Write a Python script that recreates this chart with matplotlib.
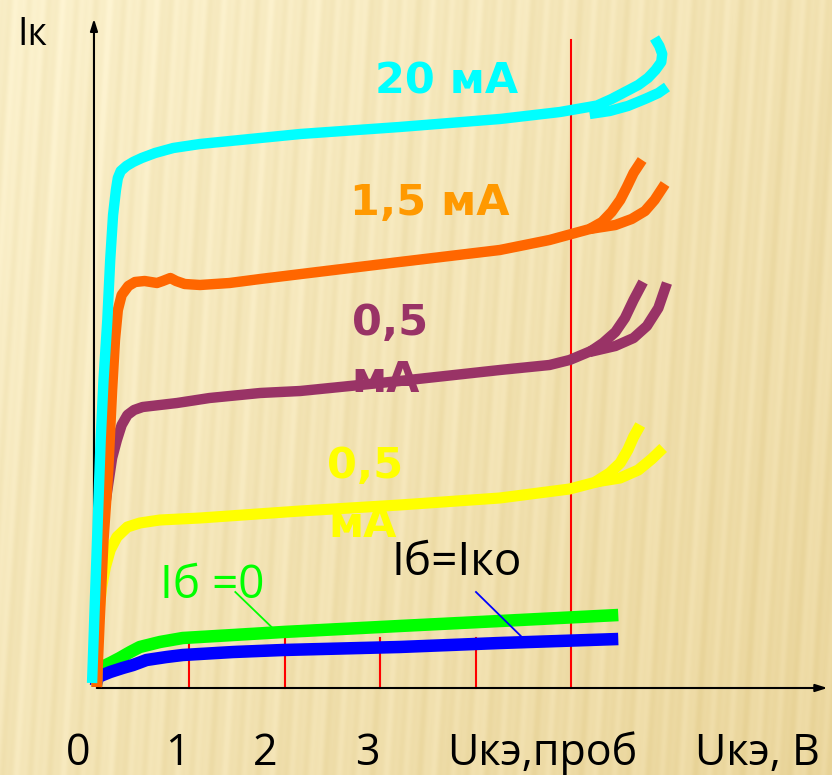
import numpy as np
import matplotlib
matplotlib.use('Agg')
import matplotlib.pyplot as plt

# ---- output characteristics of the transistor, Ik vs Uke ----
# voltage in volts, current in relative units
u_20 = [-0.02, 0.01, 0.04, 0.07, 0.10, 0.14, 0.17, 0.20, 0.23, 0.25, 0.28, 0.34, 0.41, 0.50,
        0.64, 0.83, 1.11, 2.16, 3.20, 4.25, 4.88, 5.30]
i_20 = [0.05, 0.88, 1.68, 2.48, 3.08, 3.68, 4.28, 4.73, 4.98, 5.10, 5.17, 5.22, 5.26, 5.30,
        5.35, 5.40, 5.44, 5.54, 5.61, 5.69, 5.76, 5.83]
u_20a = [5.28, 5.42, 5.56, 5.70, 5.80, 5.88, 5.94, 5.95, 5.92, 5.87]
i_20a = [5.83, 5.89, 5.96, 6.03, 6.10, 6.18, 6.26, 6.34, 6.42, 6.50]
u_20b = [5.19, 5.40, 5.59, 5.77, 5.91, 6.00]
i_20b = [5.74, 5.77, 5.82, 5.89, 5.95, 6.01]

u_15 = [0.03, 0.06, 0.10, 0.15, 0.19, 0.22, 0.25, 0.29, 0.36, 0.43, 0.53, 0.66, 0.72, 0.80,
        0.86, 0.95, 1.11, 1.42, 1.74, 3.20, 4.25, 4.77, 5.23]
i_15 = [0.01, 0.68, 1.48, 2.18, 2.98, 3.48, 3.78, 3.93, 4.02, 4.06, 4.07, 4.05, 4.07, 4.10,
        4.07, 4.04, 4.03, 4.05, 4.09, 4.26, 4.38, 4.48, 4.60]
u_15a = [5.19, 5.32, 5.42, 5.51, 5.58, 5.65, 5.74]
i_15a = [4.59, 4.66, 4.76, 4.88, 5.01, 5.15, 5.28]
u_15b = [5.19, 5.46, 5.63, 5.77, 5.87, 5.98]
i_15b = [4.59, 4.63, 4.69, 4.77, 4.88, 5.04]

u_05p = [0.03, 0.03, 0.04, 0.08, 0.14, 0.19, 0.24, 0.29, 0.35, 0.42, 0.51, 0.69, 0.87, 1.21,
         1.74, 2.16, 3.20, 4.25, 4.77, 4.98, 5.23]
i_05p = [0.01, 0.41, 1.08, 1.58, 1.98, 2.30, 2.48, 2.63, 2.73, 2.78, 2.81, 2.83, 2.85, 2.90,
         2.95, 2.97, 3.07, 3.18, 3.23, 3.28, 3.38]
u_05pa = [5.19, 5.33, 5.46, 5.56, 5.65, 5.75]
i_05pa = [3.36, 3.45, 3.56, 3.70, 3.88, 4.06]
u_05pb = [5.19, 5.46, 5.65, 5.79, 5.91, 6.00]
i_05pb = [3.36, 3.42, 3.50, 3.62, 3.80, 4.05]

u_05y = [0.03, 0.03, 0.05, 0.08, 0.12, 0.17, 0.24, 0.35, 0.48, 0.69, 1.11, 2.16, 3.20, 4.25,
         4.98, 5.30]
i_05y = [0.01, 0.41, 0.75, 1.01, 1.21, 1.38, 1.51, 1.61, 1.65, 1.68, 1.70, 1.77, 1.83, 1.90,
         1.99, 2.07]
u_05ya = [5.25, 5.40, 5.51, 5.59, 5.65, 5.72]
i_05ya = [2.06, 2.15, 2.25, 2.38, 2.51, 2.63]
u_05yb = [5.25, 5.51, 5.70, 5.84, 5.96]
i_05yb = [2.06, 2.10, 2.18, 2.29, 2.40]

u_b0 = [0.02, 0.06, 0.17, 0.27, 0.38, 0.48, 0.69, 0.93, 1.46, 1.98, 3.20, 4.25, 5.49]
i_b0 = [0.08, 0.20, 0.25, 0.30, 0.36, 0.41, 0.46, 0.50, 0.53, 0.56, 0.62, 0.67, 0.73]
u_ko = [0.02, 0.04, 0.17, 0.30, 0.41, 0.55, 0.76, 0.93, 1.46, 1.98, 3.20, 4.25, 5.49]
i_ko = [0.02, 0.11, 0.16, 0.20, 0.23, 0.28, 0.31, 0.33, 0.36, 0.38, 0.41, 0.45, 0.49]

tick_u = [1, 2, 3, 4]
u_break = 5.0
tick_labels = ['0', '1', '2', '3', 'Uкэ,проб', 'Uкэ, В']
tick_label_u = [-0.17, 0.87, 1.79, 2.86, 4.69, 6.95]

# axis limits so that the plot fills the whole canvas
x_lo, x_hi = -0.984, 7.728
y_lo, y_hi = -0.87, 6.88

fig = plt.figure(figsize=(8.32, 7.75), dpi=100)
ax = fig.add_axes([0, 0, 1, 1])
ax.set_xlim(x_lo, x_hi)
ax.set_ylim(y_lo, y_hi)
ax.axis('off')

# wooden background with vertical grain
H, W = 775, 832
yy, xx = np.mgrid[0:H, 0:W].astype(float)
xs = xx + 0.06 * yy
grain = (0.55 * np.sin(2 * np.pi * xs / 23.0) + 0.3 * np.sin(2 * np.pi * xs / 9.5 + 1.3)
         + 0.25 * np.sin(2 * np.pi * xs / 41.0 + 0.4))
grain = np.clip(grain, -1, 1)
t = np.clip(0.55 * xx / W + 0.45 * yy / H, 0, 1)
light = np.array([252, 242, 206]) / 255.0
dark = np.array([236, 216, 160]) / 255.0
base = light[None, None, :] * (1 - t[..., None]) + dark[None, None, :] * t[..., None]
bg = base - 0.028 * (grain[..., None] + 0.3) * np.array([0.6, 0.8, 1.4])
bg = np.clip(bg, 0, 1)
ax.imshow(bg, extent=[x_lo, x_hi, y_lo, y_hi], aspect='auto', zorder=0)

# ticks and breakdown voltage line
for u in tick_u:
    ax.plot([u, u], [0, 0.5], color='#ff0000', lw=1.5, zorder=1)
ax.plot([u_break, u_break], [0, 6.48], color='#ff0000', lw=1.5, zorder=1)

# axes with arrows
ax.annotate('', xy=(0, 6.72), xytext=(0, 0),
            arrowprops=dict(arrowstyle='-|>,head_length=0.7,head_width=0.22', color='black', lw=1.5),
            zorder=2)
ax.annotate('', xy=(7.71, 0), xytext=(0, 0),
            arrowprops=dict(arrowstyle='-|>,head_length=0.7,head_width=0.22', color='black', lw=1.5),
            zorder=2)

bold = dict(family='DejaVu Sans', fontweight='bold', fontsize=31)
ax.text(2.94, 5.95, '20 мА', color='#00ffff', zorder=3, **bold)
ax.text(2.68, 4.73, '1,5 мА', color='#ff9900', zorder=3, **bold)
ax.text(2.70, 3.53, '0,5', color='#993366', zorder=3, **bold)
ax.text(2.70, 2.96, 'мА', color='#993366', zorder=3, **bold)
ax.text(2.44, 2.10, '0,5', color='#ffff00', zorder=3, **bold)
ax.text(2.45, 1.51, 'мА', color='#ffff00', zorder=3, **bold)

kw = dict(solid_capstyle='butt', solid_joinstyle='round')
ax.plot(u_b0, i_b0, color='#00ff00', lw=9, zorder=4, **kw)
ax.plot(u_ko, i_ko, color='#0000ff', lw=9, zorder=4, **kw)
for uu, ii in [(u_05y, i_05y), (u_05ya, i_05ya), (u_05yb, i_05yb)]:
    ax.plot(uu, ii, color='#ffff00', lw=8, zorder=4, **kw)
for uu, ii in [(u_05p, i_05p), (u_05pa, i_05pa), (u_05pb, i_05pb)]:
    ax.plot(uu, ii, color='#993366', lw=7.5, zorder=4, **kw)
for uu, ii in [(u_15, i_15), (u_15a, i_15a), (u_15b, i_15b)]:
    ax.plot(uu, ii, color='#ff6600', lw=7.5, zorder=4, **kw)
for uu, ii in [(u_20, i_20), (u_20a, i_20a), (u_20b, i_20b)]:
    ax.plot(uu, ii, color='#00ffff', lw=7.5, zorder=4, **kw)

# callouts
ax.plot([1.48, 1.87], [0.96, 0.60], color='#00ff00', lw=1.3, zorder=5)
ax.plot([4.00, 4.48], [0.96, 0.51], color='#0000ff', lw=1.3, zorder=5)

reg = dict(family=['Open Sans', 'DejaVu Sans'])
ax.text(0.69, 0.90, 'Iб =0', color='#00ff00', fontsize=33, zorder=5, **reg)
ax.text(3.12, 1.13, 'Iб=Iко', color='black', fontsize=33, zorder=5, **reg)
ax.text(-0.806, 6.43, 'Iк', color='black', fontsize=27, zorder=5, **reg)
for lab, u in zip(tick_labels, tick_label_u):
    ax.text(u, -0.77, lab, color='black', fontsize=31, ha='center', zorder=5, **reg)

fig.savefig('out.png', dpi=100)
